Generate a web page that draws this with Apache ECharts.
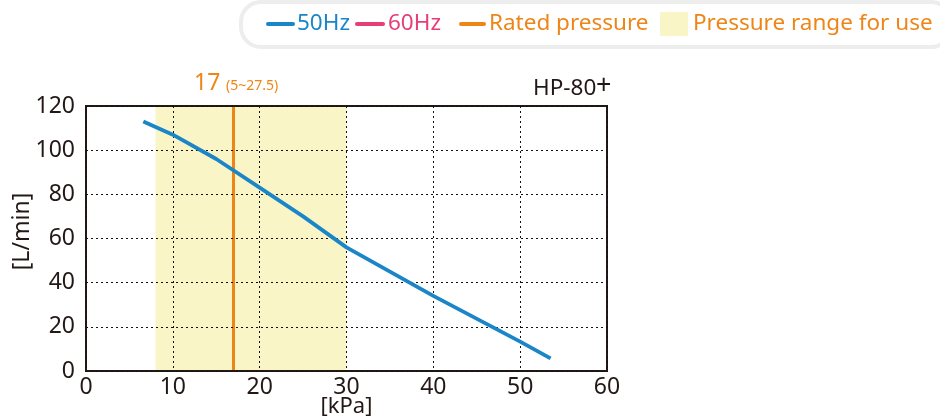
<!DOCTYPE html>
<html><head><meta charset="utf-8">
<script src="https://cdn.jsdelivr.net/npm/echarts@6/dist/echarts.min.js"></script>
<style>html,body{margin:0;padding:0;background:#fff}#c{width:940px;height:419px}</style>
</head><body><div id="c"></div>
<script>
const pressure50 = [6.6, 10, 15, 20, 25, 30, 40, 50, 53.5];
const flow50 = [113, 107, 96, 83, 70, 56, 34, 13.3, 5.7];
const ratedPressure = 17;
const useRange = [8, 30];
const xTicks = [0, 10, 20, 30, 40, 50, 60];
const yTicks = [0, 20, 40, 60, 80, 100, 120];
const FONT = '"Noto Sans", sans-serif';
const DARK = '#231815';
const BLUE = '#1a86c8', PINK = '#e63e76', ORANGE = '#ee8617', YELLOW = '#faf5c6';
const yMax = yTicks[yTicks.length - 1];

const chart = echarts.init(document.getElementById('c'), null, {renderer: 'canvas'});
chart.setOption({
  animation: false,
  grid: {left: 86, right: 333, top: 106, bottom: 48, show: true, borderColor: DARK, borderWidth: 2,
         backgroundColor: 'transparent', outerBoundsMode: 'none', containLabel: false, zlevel: 1, z: 5},
  xAxis: {
    type: 'value', min: xTicks[0], max: xTicks[xTicks.length-1], interval: 10, zlevel: 1, z: 5,
    name: '[kPa]', nameLocation: 'middle', nameGap: 25, nameMoveOverlap: false,
    nameTextStyle: {fontFamily: FONT, fontSize: 22, color: DARK},
    axisLine: {show: false}, axisTick: {show: false},
    axisLabel: {fontFamily: FONT, fontSize: 23, color: DARK, margin: 5},
    splitLine: {show: true, lineStyle: {color: '#111', type: [2, 3], width: 1}}
  },
  yAxis: {
    type: 'value', min: yTicks[0], max: yMax, interval: 20, zlevel: 1, z: 5,
    name: '[L/min]', nameLocation: 'middle', nameGap: 52, nameRotate: 90, nameMoveOverlap: false,
    nameTextStyle: {fontFamily: FONT, fontSize: 23, color: DARK, padding: [0, 0, 0, 14]},
    axisLine: {show: false}, axisTick: {show: false},
    axisLabel: {fontFamily: FONT, fontSize: 23, color: DARK, margin: 11},
    splitLine: {show: true, lineStyle: {color: '#111', type: [2, 3], width: 1}}
  },
  series: [
    {
      type: 'line', data: useRange.map(p => [p, yMax]), zlevel: 0, z: 0, silent: true,
      showSymbol: false, lineStyle: {width: 0, opacity: 0},
      areaStyle: {color: YELLOW, opacity: 1}
    },
    {
      type: 'line', name: '50Hz', data: pressure50.map((p, i) => [p, flow50[i]]),
      showSymbol: false, lineStyle: {color: BLUE, width: 3.8}, zlevel: 2,
      markLine: {silent: true, symbol: 'none', label: {show: false},
        lineStyle: {color: ORANGE, width: 3, type: 'solid'}, data: [{xAxis: ratedPressure}]}
    }
  ],
  graphic: [
    {type: 'rect', shape: {x: 241, y: 2, width: 710, height: 45, r: 20}, style: {fill: '#fff', stroke: '#ededed', lineWidth: 4}},
    {type: 'line', shape: {x1: 268, y1: 24, x2: 293, y2: 24}, style: {stroke: BLUE, lineWidth: 4, lineCap: 'round'}},
    {type: 'text', x: 297, y: 24, style: {text: '50Hz', fill: BLUE, font: '22.5px ' + FONT, textVerticalAlign: 'middle'}},
    {type: 'line', shape: {x1: 357, y1: 24, x2: 383, y2: 24}, style: {stroke: PINK, lineWidth: 4, lineCap: 'round'}},
    {type: 'text', x: 388, y: 24, style: {text: '60Hz', fill: PINK, font: '22.5px ' + FONT, textVerticalAlign: 'middle'}},
    {type: 'line', shape: {x1: 461, y1: 24, x2: 484, y2: 24}, style: {stroke: ORANGE, lineWidth: 4, lineCap: 'round'}},
    {type: 'text', x: 489, y: 24, style: {text: 'Rated pressure', fill: ORANGE, font: '22.5px ' + FONT, textVerticalAlign: 'middle'}},
    {type: 'rect', shape: {x: 660, y: 12, width: 28, height: 24}, style: {fill: YELLOW}},
    {type: 'text', x: 693, y: 24, style: {text: 'Pressure range for use', fill: ORANGE, font: '22.5px ' + FONT, textVerticalAlign: 'middle'}},
    {type: 'text', x: 194, y: 83, style: {text: '17', fill: ORANGE, font: '23px ' + FONT, textVerticalAlign: 'middle'}},
    {type: 'text', x: 226, y: 86, style: {text: '(5~27.5)', fill: ORANGE, font: '14px ' + FONT, textVerticalAlign: 'middle'}},
    {type: 'text', x: 533, y: 89, style: {text: 'HP-80', fill: DARK, font: '22.5px ' + FONT, textVerticalAlign: 'middle'}},
    {type: 'text', x: 596, y: 86, style: {text: '+', fill: DARK, font: '27px ' + FONT, textVerticalAlign: 'middle'}}
  ]
});
</script></body></html>
